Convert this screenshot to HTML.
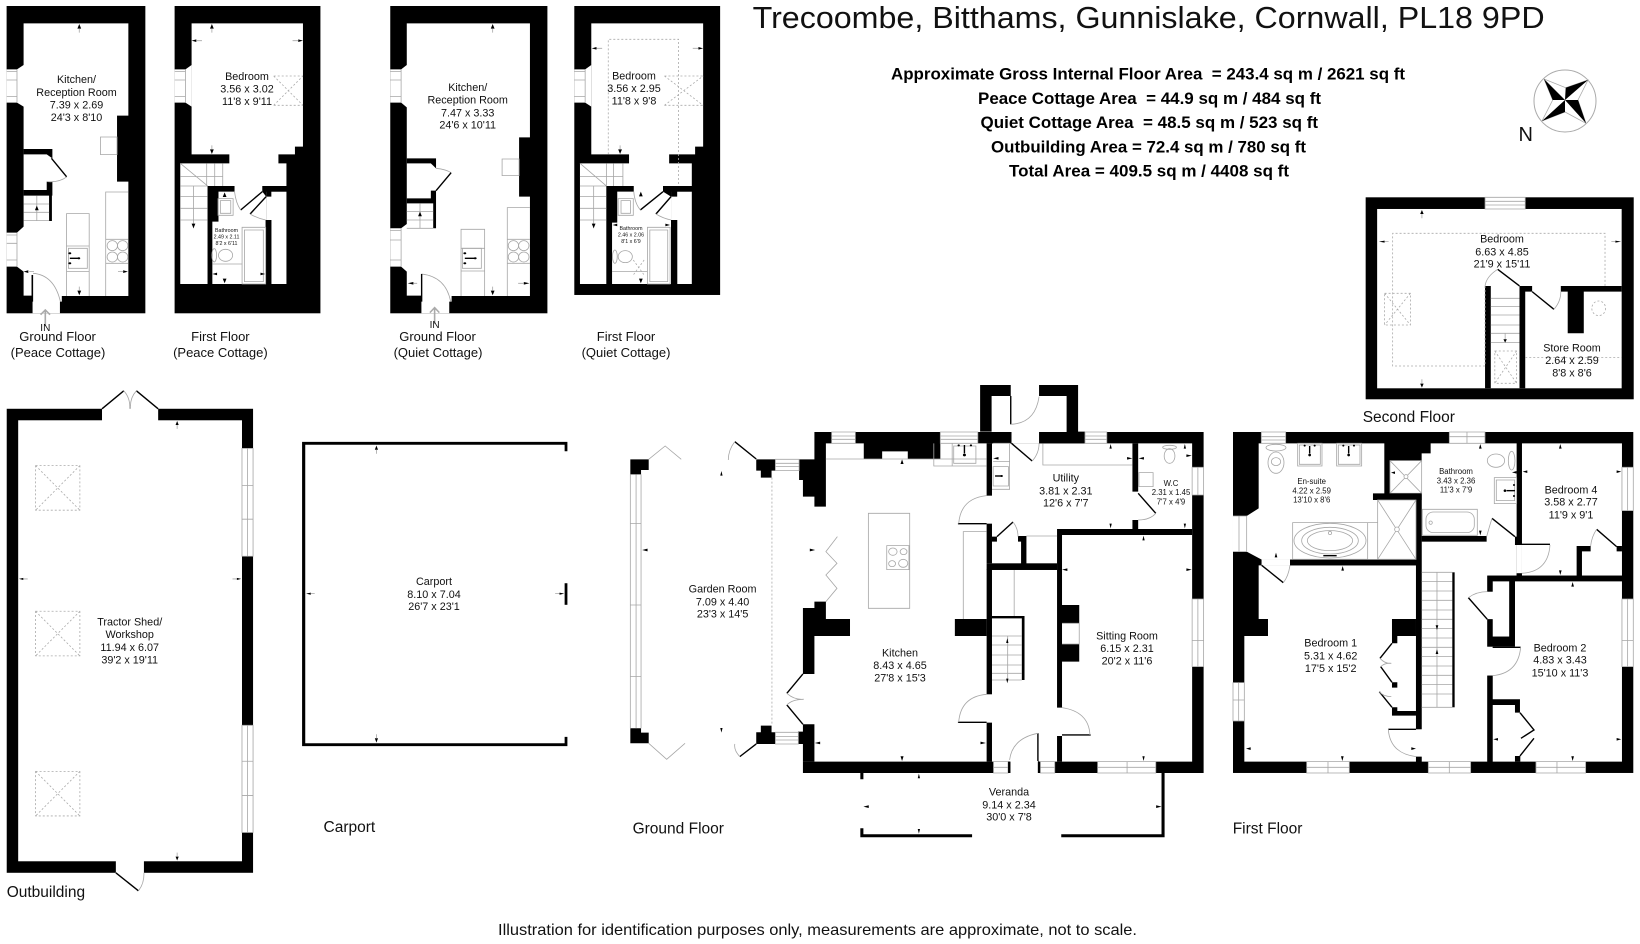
<!DOCTYPE html>
<html><head><meta charset="utf-8">
<style>
html,body{margin:0;padding:0;background:#fff;width:1640px;height:944px;overflow:hidden}
svg{display:block}
svg *{vector-effect:non-scaling-stroke}
text{font-family:"Liberation Sans",sans-serif;fill:#111;stroke:none}
.c{text-anchor:middle}
.t11{font-size:10.8px}.t8{font-size:7.8px}.t55{font-size:5.3px}.t13{font-size:13px}.t155{font-size:15.5px}
.b{font-weight:bold;font-size:17px;text-anchor:middle;fill:#000}
.k{fill:#000}.w{fill:#fff}
.g{fill:none;stroke:#a6a6a6;stroke-width:.8}
.gw{fill:#fff;stroke:#a6a6a6;stroke-width:.8}
.d{fill:none;stroke:#aaa;stroke-width:.8;stroke-dasharray:2 2}
.l{fill:none;stroke:#000;stroke-width:1.4}
.l2{fill:none;stroke:#000;stroke-width:3}
.a{fill:#000}
</style></head>
<body>
<svg width="1640" height="944" viewBox="0 0 1640 944" xmlns="http://www.w3.org/2000/svg">

<!-- COTTAGES -->
<g transform="scale(.4719,.3333)">
 <!-- Peace ground -->
 <rect class="k" x="14" y="18" width="294" height="922"/>
 <path class="w" d="M50 70H272V347H248V545H272V888H131V905H127V940H69V887H50V815L36 800H14V698H36L50 680V320L36 308H14V208H36L50 195Z"/>
 <path class="k" d="M50 447H111V475L99 463H50ZM99 545H111V587H110V663H104V587H50V570H99Z"/>
 <path class="g" d="M14 215H36M14 240H36M14 290H36M14 705H36M14 730H36M14 780H36M36 208V308M36 698V800"/>
 <path class="g" d="M213 411h35v53h-35zM224 888V576H272M141 888V641H189V888M141 738H189M141 815H189M224 718H272M224 790H272M50 662H104M50 612H104M50 637H104M78 587V662"/>
 <path class="g" d="M142 530Q125 548 100 545M70 820Q115 825 128 905"/>
 <path class="l" d="M109 475L141 530"/><path class="l" d="M68.500 825V905" style="stroke-width:1.6"/>
 <ellipse class="g" cx="238" cy="737" rx="11" ry="15"/><ellipse class="g" cx="260" cy="737" rx="11" ry="15"/><ellipse class="g" cx="238" cy="771" rx="11" ry="15"/><ellipse class="g" cx="260" cy="771" rx="11" ry="15"/>
 <rect class="g" x="145" y="745" width="40" height="60"/><path class="l" d="M148 775H165M148 757V757M148 790V790"/><circle class="a" cx="167" cy="775" r="3"/><circle class="a" cx="148" cy="760" r="3"/><circle class="a" cx="148" cy="790" r="3"/>
 <path class="a" d="M168 72l-4 14h8zM168 886l-4-14h8zM78 617l-4 14h8zM50 815l10-4v8zM271 815l-10-4v8z"/>
 <path class="g" d="M168 86V98M168 872V860M62 815H72M261 815H250"/>
 <!-- arrow IN -->
 <path d="M96 978V932M86 944L96 930L106 944" fill="none" stroke="#aaa" stroke-width="1.6"/>

 <!-- Peace first -->
 <rect class="k" x="370" y="18" width="309" height="922"/>
 <path class="w" d="M406 70H642V440H625V463H590V490H607V558H440V852H382V490H486V463H406Z"/>
 <path class="w" d="M370 208H393L406 195V320L393 308H370Z"/>
 <path class="g" d="M370 215H393M370 240H393M370 290H393M393 208V308"/>
 <path class="k" d="M440 558H497V575H463V665H450V852H440Z"/>
 <path class="w" d="M463 575H497V558H556V575L564 590V660H563V852H450V665H463Z"/>
 <path class="w" d="M564 575H607V852H575V660H564Z"/>
 <path class="k" d="M556 558H607V575H575V590H564V575H556ZM563 660H575V852H563Z"/>
 <path class="g" d="M382 490L440 558M382 530H472M382 558H440M382 590H440M382 625H440M382 660H440M472 490V558M455 490V558M438 490V558M410 558V685"/>
 <path class="g" d="M462 596h32v50h-32zM467 602h22v38h-22z M513 682h50v170h-50zM518 690h40v155h-40z M450 792H513"/>
 <path class="d" d="M580 228H642M580 316H642M580 228L642 316M580 316L642 228"/>
 <ellipse class="g" cx="478" cy="766" rx="15" ry="18"/><ellipse class="g" cx="454" cy="766" rx="5" ry="20"/>
 <path class="l" d="M556 575L510 630M564 590L530 642"/><path class="g" d="M530 642Q545 655 563 660M497 575Q500 610 510 630"/>
 <path class="a" d="M449 72l-4 14h8zM449 462l-4-14h8zM410 685l-4-14h8zM406 122l10-4v8zM642 122l-10-4v8zM450 822l10-4v8zM562 822l-10-4v8zM476 850l-4-14h8zM476 577l-4 14h8z"/>
 <path class="g" d="M449 86V98M449 448V436M416 122H428M632 122H620"/>

 <!-- Quiet ground -->
 <rect class="k" x="827" y="18" width="333" height="922"/>
 <path class="w" d="M862 70H1123V412H1100V590H1123V888H957V905H952V940H893V887H862V815L850 800H827V685H850L862 672V322L850 308H827V208H850L862 195Z"/>
 <path class="k" d="M862 475H924V505L913 490H862ZM913 572H924V685H918V610H862V595H913Z"/>
 <path class="g" d="M827 215H850M827 240H850M827 290H850M827 692H850M827 720H850M827 780H850M850 208V308M850 685V800"/>
 <path class="g" d="M1064 477h36v50h-36zM1123 623H1075V888M1075 718H1123M1075 790H1123M977 888V688H1027V888M977 745H1027M977 813H1027M862 685H918M862 635H918M862 660H918M890 610V685"/>
 <path class="g" d="M924 505Q945 508 956 518M893 822Q945 830 955 905"/>
 <path class="l" d="M956 518L924 572"/><path class="l" d="M893.500 822V905"/>
 <ellipse class="g" cx="1088" cy="737" rx="11" ry="15"/><ellipse class="g" cx="1110" cy="737" rx="11" ry="15"/><ellipse class="g" cx="1088" cy="771" rx="11" ry="15"/><ellipse class="g" cx="1110" cy="771" rx="11" ry="15"/>
 <rect class="g" x="980" y="745" width="40" height="60"/><path class="l" d="M985 775H1005"/><circle class="a" cx="1007" cy="775" r="3"/><circle class="a" cx="985" cy="760" r="3"/><circle class="a" cx="985" cy="790" r="3"/>
 <path class="a" d="M1044 72l-4 14h8zM1044 886l-4-14h8zM890 635l-4 14h8zM864 850l12-4v8zM1122 850l-12-4v8z"/>
 <path class="g" d="M1044 86V98M1044 872V860M876 850H884M1110 850H1098"/>
 <path d="M921 972V925M911 938L921 923L931 938" fill="none" stroke="#aaa" stroke-width="1.6"/>

 <!-- Quiet first -->
 <rect class="k" x="1217" y="18" width="309" height="867"/>
 <path class="w" d="M1253 70H1490V440H1473V463H1418V490H1466V558H1285V852H1229V490H1333V463H1253Z"/>
 <path class="w" d="M1217 208H1240L1253 195V320L1240 308H1217Z"/>
 <path class="g" d="M1217 215H1240M1217 240H1240M1217 290H1240M1240 208V308"/>
 <path class="k" d="M1285 558H1343V575H1308V668H1297V852H1285Z"/>
 <path class="w" d="M1308 575H1343V558H1405V575L1422 590V660V852H1297V668H1308Z"/>
 <path class="w" d="M1422 575H1466V852H1435V660H1422Z"/>
 <path class="k" d="M1405 558H1466V575H1435V590H1422V575H1405ZM1422 660H1435V852H1422Z"/>
 <path class="d" d="M1289 463V118H1438V558M1408 228H1490M1408 316H1490M1408 228L1490 316M1408 316L1490 228"/>
 <path class="g" d="M1229 490L1285 558M1229 530H1320M1229 558H1285M1229 590H1285M1229 625H1285M1229 660H1285M1320 490V558M1300 490V558M1285 490V558M1258 558V685"/>
 <path class="g" d="M1310 596h32v50h-32zM1316 602h20v38h-20zM1372 682h48v170h-48zM1377 690h38v155h-38zM1297 815H1372"/>
 <ellipse class="g" cx="1325" cy="770" rx="15" ry="18"/><ellipse class="g" cx="1303" cy="770" rx="5" ry="20"/>
 <path class="d" d="M1342 780L1365 825M1365 780L1342 825"/>
 <path class="l" d="M1405 575L1357 630M1422 590L1390 642"/><path class="g" d="M1390 642Q1405 655 1422 660M1343 575Q1345 610 1357 630"/>
 <path class="a" d="M1314 462l-4-14h8zM1254 145l10-4v8zM1490 145l-10-4v8zM1358 575l-4 14h8zM1258 685l-4-14h8zM1298 675l10-4v8zM1420 675l-10-4v8zM1358 850l-4-14h8z"/>
 <path class="g" d="M1314 448V436M1264 145H1276M1480 145H1468"/>
</g>

<!-- Cottage labels -->
<g class="t11">
<text class="c" x="76.5" y="83">Kitchen/</text><text class="c" x="76.5" y="96">Reception Room</text><text class="c" x="76.5" y="108.5">7.39 x 2.69</text><text class="c" x="76.5" y="121">24'3 x 8'10</text>
<text class="c" x="247" y="80">Bedroom</text><text class="c" x="247" y="92.5">3.56 x 3.02</text><text class="c" x="247" y="105">11'8 x 9'11</text>
<text class="c" x="467.7" y="91">Kitchen/</text><text class="c" x="467.7" y="103.7">Reception Room</text><text class="c" x="467.7" y="116.3">7.47 x 3.33</text><text class="c" x="467.7" y="128.7">24'6 x 10'11</text>
<text class="c" x="634" y="79.5">Bedroom</text><text class="c" x="634" y="92">3.56 x 2.95</text><text class="c" x="634" y="104.5">11'8 x 9'8</text>
</g>
<g class="t55">
<text class="c" x="226.5" y="232">Bathroom</text><text class="c" x="226.5" y="238.5">2.49 x 2.11</text><text class="c" x="226.5" y="245">8'2 x 6'11</text>
<text class="c" x="631" y="230">Bathroom</text><text class="c" x="631" y="236.5">2.46 x 2.06</text><text class="c" x="631" y="243">8'1 x 6'9</text>
</g>
<text class="c" x="45.3" y="331" style="font-size:10px">IN</text>
<text class="c" x="434.6" y="328" style="font-size:10px">IN</text>
<g class="t13">
<text class="c" x="57.6" y="341">Ground Floor</text><text class="c" x="58" y="357">(Peace Cottage)</text>
<text class="c" x="220.4" y="341">First Floor</text><text class="c" x="220.4" y="357">(Peace Cottage)</text>
<text class="c" x="437.5" y="341">Ground Floor</text><text class="c" x="438" y="357">(Quiet Cottage)</text>
<text class="c" x="626" y="341">First Floor</text><text class="c" x="626" y="357">(Quiet Cottage)</text>
</g>

<!-- Title -->
<text x="752.6" y="28" style="font-size:31px" textLength="792" lengthAdjust="spacingAndGlyphs">Trecoombe, Bitthams, Gunnislake, Cornwall, PL18 9PD</text>
<text class="b" x="1148" y="79.5" textLength="514" lengthAdjust="spacingAndGlyphs">Approximate Gross Internal Floor Area&#160; = 243.4 sq m / 2621 sq ft</text>
<text class="b" x="1149.5" y="104" textLength="343" lengthAdjust="spacingAndGlyphs">Peace Cottage Area&#160; = 44.9 sq m / 484 sq ft</text>
<text class="b" x="1149.3" y="128" textLength="337.5" lengthAdjust="spacingAndGlyphs">Quiet Cottage Area&#160; = 48.5 sq m / 523 sq ft</text>
<text class="b" x="1148.5" y="152.5" textLength="315" lengthAdjust="spacingAndGlyphs">Outbuilding Area = 72.4 sq m / 780 sq ft</text>
<text class="b" x="1149" y="176.5" textLength="280" lengthAdjust="spacingAndGlyphs">Total Area = 409.5 sq m / 4408 sq ft</text>

<!-- Compass -->
<circle cx="1565" cy="101" r="31" fill="none" stroke="#aaa" stroke-width="1"/>
<path d="M1544 79L1565.700 87.700L1588 80L1578 100L1586 123.300L1565 112L1542 121L1552.700 100Z" fill="#fff" stroke="#aaa" stroke-width=".8"/>
<path class="k" d="M1544 79L1552.700 100L1565 100ZM1588 80L1565.700 87.700L1565 100ZM1586 123.300L1578 100L1565 100ZM1542 121L1565 112L1565 100Z"/>
<text x="1518.5" y="141" style="font-size:20px">N</text>

<!-- Second floor -->
<g transform="translate(740,0) scale(.574,.3333)">
 <rect class="k" x="1090" y="592" width="467" height="606"/>
 <rect class="w" x="1110" y="627" width="426" height="538"/>
 <rect class="gw" x="1298" y="592" width="70" height="35"/><path class="g" d="M1298 604H1368M1298 615H1368"/>
 <path class="k" d="M1298 858H1308V1165H1298ZM1358 858H1380V875H1368V1165H1358ZM1430 858H1536V875H1470V1000H1442V875H1430Z"/>
 <path class="d" d="M1298 858V1098H1137V700H1507V858M1368 1073H1536"/>
 <path class="d" d="M1123 880h45v95h-45zM1123 880L1168 975M1168 880L1123 975M1315 1053h38v97h-38zM1315 1053L1353 1150M1353 1053L1315 1150"/>
 <path class="g" d="M1308 895H1358M1308 920H1358M1308 945H1358M1308 975H1358M1308 1000H1358M1308 1028H1358M1333 1000V1025"/>
 <ellipse class="d" cx="1496" cy="925" rx="12" ry="22"/>
 <path class="l" d="M1380 875L1418 928M1358 858L1320 808"/>
 <path class="g" d="M1418 928Q1430 905 1430 875M1320 808Q1300 830 1298 858"/>
 <path class="a" d="M1188 630l-3 12h6zM1188 1163l-3-12h6zM1113 725l10-3v6zM1535 725l-10-3v6zM1333 1028l-3-10h6z"/>
 <path class="g" d="M1188 642V655M1188 1151V1138M1123 725H1130M1525 725H1518"/>
</g>
<g class="t11">
<text class="c" x="1502" y="242.7">Bedroom</text><text class="c" x="1502" y="255.3">6.63 x 4.85</text><text class="c" x="1502" y="267.7">21'9 x 15'11</text>
<text class="c" x="1572" y="351.7">Store Room</text><text class="c" x="1572" y="364">2.64 x 2.59</text><text class="c" x="1572" y="376.7">8'8 x 8'6</text>
</g>
<text class="t155" x="1362.7" y="422">Second Floor</text>

<!-- Outbuilding + carport -->
<g transform="translate(0,380) scale(.3954,.3597)">
 <rect class="k" x="17" y="80" width="623" height="1290"/>
 <rect class="w" x="46" y="112" width="566" height="1226"/>
 <rect class="w" x="258" y="78" width="142" height="36"/>
 <rect class="w" x="293" y="1336" width="71" height="36"/>
 <rect class="gw" x="612" y="190" width="28" height="300"/><rect class="gw" x="612" y="960" width="28" height="298"/>
 <path class="g" d="M626 190V490M626 960V1258M612 293H640M612 387H640M612 1060H640M612 1155H640"/>
 <path class="l" d="M258 80L313 30M400 80L345 30M293 1370L350 1420"/>
 <path class="g" d="M313 30Q330 50 328 80M345 30Q328 50 330 80M350 1420Q365 1400 364 1370"/>
 <path class="d" d="M90 238h112v124H90zM90 238L202 362M202 238L90 362M90 643h112v124H90zM90 643L202 767M202 643L90 767M90 1088h112v124H90zM90 1088L202 1212M202 1088L90 1212"/>
 <path class="a" d="M448 114l-4 11h8zM448 1336l-4-11h8zM48 553l11-3v6zM610 553l-11-3v6z"/>
 <path class="g" d="M448 125V136M448 1325V1314M59 553H70M599 553H588"/>
 <!-- carport -->
 <path class="k" d="M764 172H1435V198H1428V180H772V1010H1428V992H1435V1018H764Z"/>
 <rect class="k" x="1428" y="565" width="7" height="60"/>
 <path class="a" d="M952 182l-4 12h8zM952 1008l-4-12h8zM774 594l12-3v6zM1427 594l-12-3v6z"/>
 <path class="g" d="M952 194V205M952 996V985M786 594H796M1415 594H1404"/>
</g>
<g class="t11">
<text class="c" x="129.7" y="625.7">Tractor Shed/</text><text class="c" x="129.7" y="638">Workshop</text><text class="c" x="129.7" y="651">11.94 x 6.07</text><text class="c" x="129.7" y="663.4">39'2 x 19'11</text>
<text class="c" x="434" y="585">Carport</text><text class="c" x="434" y="598">8.10 x 7.04</text><text class="c" x="434" y="610">26'7 x 23'1</text>
</g>
<text class="t155" x="323.5" y="832">Carport</text>
<text class="t155" x="6.7" y="897">Outbuilding</text>

<!-- Ground floor -->
<g transform="translate(620,410) scale(.3827,.3333)">
 <!-- main walls -->
 <path class="k" d="M478 1055H1525V1089H478ZM1495 66H1525V1089H1495ZM935 66H1525V100H935Z"/>
 <rect class="k" x="958" y="100" width="14" height="157"/>
 <rect class="k" x="958" y="341" width="14" height="119"/>
 <rect class="k" x="958" y="478" width="14" height="375"/>
 <rect class="k" x="958" y="938" width="14" height="117"/>
 <rect class="k" x="958" y="460" width="184" height="20"/>
 <!-- porch -->
 <path class="k" d="M941 -75H1021V-42H971V65H941ZM1095 -75H1197V65H1215V100H1095V82H1167V-42H1095ZM971 82H1023V100H971Z"/>
 <path class="l" d="M1021 -42V43"/><path class="g" d="M1021 43Q1085 40 1095 -40"/>
 <path class="w" d="M1023 64H1095V100H1023Z"/>
 <path class="l" d="M1023 100L1077 153"/><path class="g" d="M1077 153Q1095 130 1095 100"/>
 <!-- top wall -->
 <path class="k" d="M508 66H553V100H538V290H508V260H478V210H468V148H508ZM615 66H935V100H837V147H752V124H685V147H637V100H615Z"/>
 <rect class="gw" x="553" y="66" width="62" height="34"/><rect class="gw" x="837" y="66" width="98" height="34"/><rect class="gw" x="1215" y="66" width="57" height="34"/>
 <path class="g" d="M553 78H615M553 88H615M837 78H935M837 88H935M1215 78H1272M1215 88H1272"/>
 <!-- left side -->
 <path class="k" d="M508 575H538V627H601V678H508V792H478V594H508Z"/>
 <path class="k" d="M478 943H508V1055H478V1002H465V965H478Z"/>
 <path class="k" d="M875 627H958V678H875Z"/>
 <!-- right windows -->
 <rect class="gw" x="1495" y="172" width="30" height="83"/><rect class="gw" x="1495" y="567" width="30" height="203"/>
 <path class="g" d="M1510 172V255M1510 567V770M1495 692H1525"/>
 <!-- internal -->
 <path class="k" d="M1142 357H1495V375H1155V893H1142ZM1142 978H1155V1055H1142ZM1339 100H1354V245H1339ZM1339 330H1354V357H1339ZM1155 585H1200V640H1155ZM1155 702H1200V755H1155Z"/>
 <path class="g" d="M1155 640H1200V702H1155"/>
 <path class="k" d="M1040 378H1062V465H1048V395H1040ZM972 380H985V395H972Z"/>
 <path class="l" d="M985 380L1027 336"/><path class="g" d="M1027 336Q1040 355 1040 380"/>
 <path class="k" d="M972 618H1057V810H1050V625H972Z"/>
 <path class="g" d="M972 678H1050M972 705H1050M972 735H1050M972 765H1050M972 790H1050M972 810H1050M1013 678V810M1030 480V618M1062 378H1142"/>
 <path class="l" d="M883 341H958M883 937H958M1155 975H1230M1092 970V1089"/>
 <path class="g" d="M958 257Q890 265 885 341M958 853Q890 860 885 937M1155 893Q1225 905 1228 975M1092 970Q1025 985 1018 1050"/>
 <path class="l" d="M1354 250L1400 310"/><path class="g" d="M1400 310Q1385 330 1354 330"/>
 <!-- bottom windows -->
 <rect class="w" x="1020" y="1053" width="72" height="38"/>
 <rect class="gw" x="976" y="1055" width="38" height="34"/><rect class="gw" x="1098" y="1055" width="38" height="34"/><rect class="gw" x="1248" y="1055" width="152" height="34"/>
 <path class="g" d="M976 1072H1014M1098 1072H1136M1248 1072H1400M1325 1055V1089"/>
 <rect class="k" x="1014" y="1055" width="6" height="34"/><rect class="k" x="1092" y="1055" width="6" height="34"/>
 <!-- fixtures -->
 <path class="g" d="M538 147H958M820 100V168H958M868 100V168M872 108h58v52h-58z"/>
 <path class="l" d="M900 105V130"/><circle class="a" cx="900" cy="135" r="4"/><circle class="a" cx="885" cy="106" r="3"/><circle class="a" cx="917" cy="106" r="3"/>
 <path class="g" d="M975 100H1018V238H972M975 155H1018M975 170h40v58h-40zM1105 100V165H1339M649 310h108v285H649zM697 407h58v72h-58zM897 627V365H958"/>
 <circle class="g" cx="713" cy="425" r="11"/><circle class="g" cx="741" cy="425" r="9"/><circle class="g" cx="711" cy="461" r="9"/><circle class="g" cx="740" cy="460" r="12"/>
 <path class="l" d="M980 198H1000"/><circle class="a" cx="997" cy="198" r="3"/>
 <rect class="g" x="1356" y="188" width="37" height="42"/><ellipse class="g" cx="1436" cy="138" rx="14" ry="22"/><ellipse class="g" cx="1436" cy="112" rx="18" ry="6"/>
 <!-- garden room -->
 <path class="k" d="M27 148H75V180H55V193H27ZM27 955H55V968H75V1000H27Z"/>
 <path class="g" d="M27 193V955M42 193V955M55 193V955M27 341H55M27 585H55M27 800H55M75 148L118 108L160 148M75 1000L122 1048L170 1000"/>
 <path class="k" d="M356 148H406V182H396V203H368V182H356ZM368 947H396V967H406V1002H356V967H368Z"/>
 <rect class="gw" x="406" y="148" width="62" height="34"/><rect class="gw" x="406" y="967" width="60" height="35"/>
 <path class="g" d="M406 160H468M406 170H468M406 980H466M406 990H466"/>
 <path class="l" d="M356 147L300 95M356 1002L313 1040"/>
 <path class="g" d="M300 95Q283 120 283 150M313 1040Q297 1020 300 1002M568 380L538 425L567 460L538 495L567 535L538 575"/>
 <path class="d" d="M397 203V947"/>
 <path class="l" d="M478 792L436 850M436 885L478 943"/>
 <path class="g" d="M436 850Q455 870 480 868M436 885Q450 868 480 868"/>
 <!-- veranda -->
 <path class="k" d="M628 1089H636V1108H628ZM628 1255H636V1273H920V1282H628ZM1153 1273H1415V1089H1423V1282H1153Z"/>
 <!-- arrows -->
 <path class="a" d="M737 148l-4 14h8zM737 1053l-4-14h8zM265 183l-3 14h6zM265 968l-3-14h6zM58 420l14-4v8zM510 420l-14-4v8zM509 999l14-4v8zM956 999l-14-4v8zM975 145l14-4v8zM1339 145l-14-4v8zM1282 102l-3 14h6zM1282 355l-3-14h6zM1476 102l-3 14h6zM1476 355l-3-14h6zM1155 479l14-4v8zM1494 479l-14-4v8zM1368 377l-3 14h6zM1368 1053l-3-14h6zM781 1091l-3 14h6zM781 1271l-3-14h6zM636 1190l14-4v8zM1415 1190l-14-4v8zM1012 685l-3 14h6zM1012 820l-3-14h6zM1355 145l14-4v8zM1494 137l-14-4v8z"/>
</g>
<g class="t11">
<text class="c" x="722.6" y="592.7">Garden Room</text><text class="c" x="722.6" y="605.3">7.09 x 4.40</text><text class="c" x="722.6" y="617.7">23'3 x 14'5</text>
<text class="c" x="900" y="656.3">Kitchen</text><text class="c" x="900" y="669">8.43 x 4.65</text><text class="c" x="900" y="681.7">27'8 x 15'3</text>
<text class="c" x="1065.8" y="481.7">Utility</text><text class="c" x="1065.8" y="494.3">3.81 x 2.31</text><text class="c" x="1065.8" y="506.7">12'6 x 7'7</text>
<text class="c" x="1127" y="639.3">Sitting Room</text><text class="c" x="1127" y="652">6.15 x 2.31</text><text class="c" x="1127" y="664.3">20'2 x 11'6</text>
<text class="c" x="1009" y="795.7">Veranda</text><text class="c" x="1009" y="808.3">9.14 x 2.34</text><text class="c" x="1009" y="820.7">30'0 x 7'8</text>
</g>
<g class="t8"><text class="c" x="1171" y="486">W.C</text><text class="c" x="1171" y="495">2.31 x 1.45</text><text class="c" x="1171" y="504.3">7'7 x 4'9</text></g>
<text class="t155" x="632.6" y="833.3">Ground Floor</text>

<!-- First floor -->
<g transform="translate(1220,410) scale(.3333)">
 <rect class="k" x="39" y="66" width="1201" height="1023"/>
 <!-- en-suite -->
 <path class="w" d="M116 100H493V253H459V270H588V449H125L80 425H39V318H80L116 295Z"/>
 <path class="g" d="M39 318H80V425H39M57 318V425"/>
 <!-- door en-suite -->
 <path class="w" d="M125 449H210V466H125Z"/>
 <!-- bed 1 -->
 <path class="w" d="M116 466H588V1055H73V678H144V627H116Z"/>
 <path class="k" d="M516 627H588V678H532V700H516ZM516 892H532V903H588V917H516ZM516 817H532V833H516Z"/>
 <path class="l" d="M516 700L480 745M516 817L482 770M516 892L478 845"/>
 <path class="g" d="M480 745Q495 762 514 760M482 770Q495 758 514 760M478 845Q490 860 514 860"/>
 <!-- bathroom and landing -->
 <path class="w" d="M632 100H890V497H802V1055H605V130H632Z"/>
 <rect class="k" x="605" y="378" width="195" height="17"/>
 <rect class="k" x="885" y="380" width="21" height="23"/>
 <path class="w" d="M890 405H906V490H890Z"/>
 <rect class="k" x="890" y="490" width="16" height="7"/>
 <!-- shower -->
 <rect class="gw" x="510" y="152" width="95" height="98"/><path class="g" d="M510 152L605 250M605 152L510 250"/><circle class="gw" cx="558" cy="200" r="6"/>
 <path class="a" d="M527 188l-14-0 0-0zM513 188l12-4v8z"/>
 <!-- bed 4 -->
 <path class="w" d="M906 100H1206V497H906Z"/>
 <path class="k" d="M1070 408H1112V424H1086V497H1070ZM1190 408H1206V424H1190ZM802 497H1206V514H802Z"/>
 <path class="l" d="M1190 410L1130 358M885 403H990"/><path class="g" d="M1130 358Q1115 380 1112 408M990 405Q985 485 906 490"/>
 <path class="l" d="M816 325L885 380"/><path class="g" d="M816 325Q808 350 800 380"/>
 <!-- bed 2 -->
 <path class="w" d="M885 514H1206V1055H818V710H885Z"/>
 <path class="w" d="M818 514H868V680H818Z"/>
 <path class="w" d="M800 545H820V628H800ZM800 710H820V797H800Z"/>
 <path class="k" d="M802 514H818V545H802ZM802 628H818V710H802ZM818 680H885V695H818ZM868 514H885V680H868Z"/>
 <path class="l" d="M802 628L745 563M818 712H902"/><path class="g" d="M745 563Q770 545 802 545M902 712Q895 790 818 797"/>
 <path class="k" d="M802 797H818V1055H802ZM818 868H900V908H885V885H818ZM885 1038H901V1055H885Z"/>
 <path class="l" d="M900 908L942 960L903 985M942 985L900 1038"/>
 <!-- bed1 door / wall -->
 <path class="k" d="M588 253H605V958H588ZM588 1040H605V1055H588Z"/>
 <path class="w" d="M586 958H607V1040H586Z"/>
 <path class="l" d="M505 958H588"/><path class="g" d="M505 958Q510 1030 588 1040"/>
 <path class="k" d="M459 250H605V270H459ZM210 449H588V466H210Z"/>
 <rect class="w" x="125" y="449" width="85" height="17"/>
 <path class="l" d="M125 466L190 518"/><path class="g" d="M190 518Q205 500 210 466"/>
 <!-- stairs -->
 <path class="g" d="M605 487H697M605 515H697M605 543H697M605 571H697M605 600H697M605 628H697M605 656H697M605 684H697M605 712H697M605 740H697M605 768H697M605 796H697M605 824H697M605 852H697M605 892H697M651 487V892"/>
 <rect class="k" x="697" y="487" width="7" height="405"/>
 <!-- windows -->
 <g class="gw"><rect x="124" y="66" width="73" height="34"/><rect x="688" y="66" width="107" height="34"/><rect x="1206" y="172" width="34" height="130"/><rect x="1206" y="567" width="34" height="203"/><rect x="39" y="818" width="34" height="115"/><rect x="260" y="1055" width="128" height="34"/><rect x="625" y="1055" width="127" height="34"/><rect x="948" y="1055" width="149" height="34"/></g>
 <path class="g" d="M124 80H197M124 90H197M741 66V100M688 80H795M1223 172V302M1223 567V770M1206 692H1240M56 818V933M39 870H73M260 1072H388M324 1055V1089M625 1072H752M688 1055V1089M948 1072H1097M1011 1055V1089"/>
 <!-- fixtures -->
 <path class="g" d="M233 100h73v68h-73zM238 105h63v58h-63zM350 100h75v68h-75zM355 105h65v58h-65zM218 338h225v110H218zM443 338H473"/>
 <ellipse class="g" cx="168" cy="158" rx="24" ry="32"/><ellipse class="g" cx="168" cy="155" rx="14" ry="12"/><ellipse class="g" cx="168" cy="113" rx="30" ry="10"/>
 <ellipse class="g" cx="330" cy="392" rx="108" ry="52"/><ellipse class="g" cx="330" cy="392" rx="85" ry="40"/><ellipse class="g" cx="330" cy="392" rx="68" ry="30"/><circle class="g" cx="330" cy="369" r="5"/>
 <rect class="gw" x="473" y="270" width="115" height="178"/><path class="g" d="M473 270L588 448M588 270L473 448"/><circle class="gw" cx="531" cy="358" r="7"/>
 <circle class="a" cx="269" cy="135" r="4"/><circle class="a" cx="386" cy="135" r="4"/><circle class="a" cx="254" cy="107" r="3"/><circle class="a" cx="284" cy="107" r="3"/><circle class="a" cx="370" cy="107" r="3"/><circle class="a" cx="402" cy="107" r="3"/>
 <path class="l" d="M269 108V130M386 108V130M310 437H350"/>
 <rect class="gw" x="607" y="298" width="165" height="78"/><rect class="g" x="618" y="306" width="145" height="62" rx="22"/><circle class="g" cx="632" cy="338" r="5"/>
 <ellipse class="g" cx="828" cy="152" rx="26" ry="20"/><ellipse class="g" cx="875" cy="152" rx="10" ry="28"/>
 <path class="g" d="M823 203h67v78h-67zM829 210h55v62h-55z"/>
 <path class="l" d="M860 242H885"/><circle class="a" cx="855" cy="242" r="4"/><circle class="a" cx="882" cy="225" r="3"/><circle class="a" cx="882" cy="258" r="3"/>
 <!-- arrows -->
 <path class="a" d="M168 428l-4 14h8zM368 468l-4 14h8zM78 1016l14-4v8zM588 1016l-14-4v8zM367 1053l-4-14h8zM781 102l-4 14h8zM781 376l-4-14h8zM876 187l14-4v8zM1021 102l-4 14h8zM908 185l14-4v8zM1204 185l-14-4v8zM1021 495l-4-14h8zM1058 516l-4 14h8zM1204 988l-14-4v8zM820 988l14-4v8zM1058 1053l-4-14h8zM651 660l-4-14h8zM651 718l-4 14h8z"/>
</g>
<g class="t8">
<text class="c" x="1311.7" y="484">En-suite</text><text class="c" x="1311.7" y="493.3">4.22 x 2.59</text><text class="c" x="1311.7" y="502.7">13'10 x 8'6</text>
<text class="c" x="1456" y="474">Bathroom</text><text class="c" x="1456" y="483.3">3.43 x 2.36</text><text class="c" x="1456" y="492.7">11'3 x 7'9</text>
</g>
<g class="t11">
<text class="c" x="1571" y="493.3">Bedroom 4</text><text class="c" x="1571" y="505.7">3.58 x 2.77</text><text class="c" x="1571" y="518.3">11'9 x 9'1</text>
<text class="c" x="1330.7" y="646.7">Bedroom 1</text><text class="c" x="1330.7" y="659.3">5.31 x 4.62</text><text class="c" x="1330.7" y="672">17'5 x 15'2</text>
<text class="c" x="1560" y="651.3">Bedroom 2</text><text class="c" x="1560" y="663.7">4.83 x 3.43</text><text class="c" x="1560" y="676.3">15'10 x 11'3</text>
</g>
<text class="t155" x="1232.7" y="833.3">First Floor</text>

<text x="498" y="935" style="font-size:16px" textLength="639" lengthAdjust="spacingAndGlyphs">Illustration for identification purposes only, measurements are approximate, not to scale.</text>
</svg>
</body></html>
